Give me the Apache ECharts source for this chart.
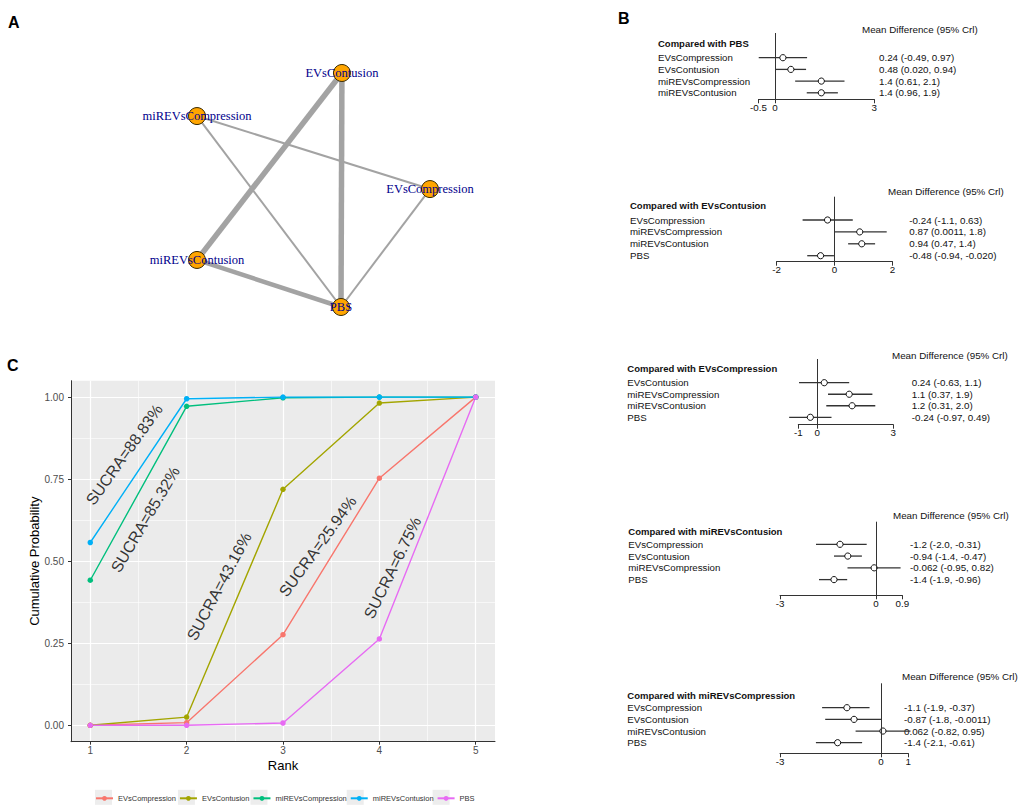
<!DOCTYPE html>
<html><head><meta charset="utf-8">
<script src="https://cdn.jsdelivr.net/npm/echarts@6/dist/echarts.min.js"></script>
<style>html,body{margin:0;padding:0;background:#fff}#c{width:1021px;height:809px}</style>
</head><body><div id="c"></div>
<script>
// ---------- Panel A : network ----------
const nodeNames = ['EVsContusion','miREVsCompression','EVsCompression','miREVsContusion','PBS'];
const nodeX = [0.622, 0, 1, 0, 0.618];
const nodeY = [1, 0.816, 0.504, 0.201, 0];
const edgeFrom = ['EVsContusion','EVsContusion','miREVsContusion','miREVsCompression','miREVsCompression','EVsCompression'];
const edgeTo   = ['PBS','miREVsContusion','PBS','EVsCompression','PBS','PBS'];
const edgeWeight = [5.5, 5.5, 4.5, 2, 2, 2];

// ---------- Panel B : forest plots ----------
const forestRefs = ['PBS','EVsContusion','EVsCompression','miREVsContusion','miREVsCompression'];
const forestRows = [
  ['EVsCompression','EVsContusion','miREVsCompression','miREVsContusion'],
  ['EVsCompression','miREVsCompression','miREVsContusion','PBS'],
  ['EVsContusion','miREVsCompression','miREVsContusion','PBS'],
  ['EVsCompression','EVsContusion','miREVsCompression','PBS'],
  ['EVsCompression','EVsContusion','miREVsContusion','PBS']
];
const forestMean = [
  [0.24, 0.48, 1.4, 1.4],
  [-0.24, 0.87, 0.94, -0.48],
  [0.24, 1.1, 1.2, -0.24],
  [-1.2, -0.94, -0.062, -1.4],
  [-1.1, -0.87, 0.062, -1.4]
];
const forestLow = [
  [-0.49, 0.020, 0.61, 0.96],
  [-1.1, 0.0011, 0.47, -0.94],
  [-0.63, 0.37, 0.31, -0.97],
  [-2.0, -1.4, -0.95, -1.9],
  [-1.9, -1.8, -0.82, -2.1]
];
const forestHigh = [
  [0.97, 0.94, 2.1, 1.9],
  [0.63, 1.8, 1.4, -0.020],
  [1.1, 1.9, 2.0, 0.49],
  [-0.31, -0.47, 0.82, -0.96],
  [-0.37, -0.0011, 0.95, -0.61]
];
const forestTickValues = [[-0.5,0,3],[-2,0,2],[-0.655,0,2.621],[-3.2,0,0.877],[-3.258,0,0.880]];
const forestTickLabels = [['-0.5','0','3'],['-2','0','2'],['-1','0','3'],['-3','0','0.9'],['-3','0','1']];

// ---------- Panel C : cumulative ranking ----------
const ranks = [1,2,3,4,5];
const treatments = ['EVsCompression','EVsContusion','miREVsCompression','miREVsContusion','PBS'];
const cumEVsCompression    = [0, 0.008, 0.276, 0.753, 1];
const cumEVsContusion      = [0, 0.025, 0.719, 0.982, 1];
const cumMiREVsCompression = [0.442, 0.972, 0.998, 1, 1];
const cumMiREVsContusion   = [0.557, 0.995, 1, 1, 1];
const cumPBS               = [0, 0, 0.007, 0.263, 1];
const sucra = [25.94, 43.16, 85.32, 88.83, 6.75];
const sucraX = [3.36, 2.338, 1.571, 1.353, 4.138];
const sucraY = [0.545, 0.423, 0.627, 0.825, 0.48];
const sucraAngle = [54, 62, 59.5, 54.4, 64];
const yTicks = [0, 0.25, 0.5, 0.75, 1];
const yMinor = [0.125, 0.375, 0.625, 0.875];
const xMinor = [1.5, 2.5, 3.5, 4.5];

// ---------- layout (pixels) ----------
const FL = [
 {left:758.4, right:874.3, top:33,    axisY:99.3,  row0:57.7,  rowGap:11.7,  labelX:658,   valueX:879,   headY:43,    mdX:862, mdY:29},
 {left:776.5, right:892.5, top:196.7, axisY:261.7, row0:220,   rowGap:11.9,  labelX:630,   valueX:909.3, headY:205,   mdX:888, mdY:191.7},
 {left:798.3, right:893.3, top:359,   axisY:424.7, row0:382.7, rowGap:11.53, labelX:627.3, valueX:911.7, headY:368.3, mdX:892, mdY:355},
 {left:780,   right:902.3, top:521.7, axisY:595.3, row0:544.3, rowGap:11.77, labelX:628.3, valueX:910,   headY:531.7, mdX:893, mdY:515},
 {left:780,   right:908.3, top:683.3, axisY:753.3, row0:707.7, rowGap:11.67, labelX:627.3, valueX:904,   headY:695,   mdX:902, mdY:676}
];
const colors = ['#F8766D','#A3A500','#00BF7D','#00B0F6','#E76BF3'];
const SANS = 'Liberation Sans';
const LEG = {left:95, cy:797.3, keyW:17, keyH:15, gap:3, font:7.5};

const fmt = v => Number(v).toPrecision(2);

const option = {
  animation: false,
  textStyle: {fontFamily: SANS},
  grid: [], xAxis: [], yAxis: [], series: [], graphic: [], legend: []
};

// Panel A
option.grid.push({left:197, top:73, width:233, height:234, outerBoundsMode:'none'});
option.xAxis.push({type:'value', gridIndex:0, min:0, max:1, show:false});
option.yAxis.push({type:'value', gridIndex:0, min:0, max:1, show:false});
option.series.push({
  type:'graph', coordinateSystem:'cartesian2d', xAxisIndex:0, yAxisIndex:0,
  symbol:'circle', symbolSize:17, silent:true,
  itemStyle:{color:'#FFA500', borderColor:'#3a2a00', borderWidth:1},
  label:{show:true, position:'inside', fontFamily:'Liberation Serif', fontSize:12.5, color:'#00008B'},
  lineStyle:{color:'#A3A3A3', opacity:1, curveness:0},
  emphasis:{disabled:true},
  data: nodeNames.map((n,i)=>({name:n, value:[nodeX[i], nodeY[i]]})),
  links: edgeFrom.map((s,i)=>({source:s, target:edgeTo[i], lineStyle:{width:edgeWeight[i]}}))
});

// Panel B
const rightAxes = [];
for (let k = 0; k < 5; k++) {
  const L = FL[k];
  const tv = forestTickValues[k], tl = forestTickLabels[k];
  const rows = forestRows[k];
  const yMin = -(L.row0 - L.top) / L.rowGap;
  const yMax = (L.axisY - L.row0) / L.rowGap;
  const gi = option.grid.length;
  option.grid.push({left:L.left, top:L.top, width:L.right-L.left, height:L.axisY-L.top, outerBoundsMode:'none'});
  const xi = option.xAxis.length;
  option.xAxis.push({
    type:'value', gridIndex:gi, min:tv[0], max:tv[tv.length-1], position:'bottom',
    axisLine:{show:true, onZero:false, lineStyle:{color:'#333', width:1}},
    axisTick:{show:true, customValues:tv, length:4, lineStyle:{color:'#333', width:1}},
    axisLabel:{show:true, customValues:tv, margin:3, fontSize:9.8, color:'#111', fontFamily:SANS,
      formatter:(v)=>{ for (let j=0;j<tv.length;j++){ if (Math.abs(v-tv[j])<1e-6) return tl[j]; } return ''; }},
    splitLine:{show:false}
  });
  const rowIdx = rows.map((r,i)=>i);
  const yi = option.yAxis.length;
  option.yAxis.push({
    type:'value', gridIndex:gi, min:yMin, max:yMax, inverse:true, position:'left',
    axisLine:{show:false, onZero:false}, axisTick:{show:false}, splitLine:{show:false},
    axisLabel:{show:true, customValues:rowIdx, align:'left', margin:L.left-L.labelX, fontSize:9.7, color:'#111', fontFamily:SANS,
      formatter:(v)=>rows[Math.round(v)] || ''}
  });
  rightAxes.push({
    type:'value', gridIndex:gi, min:yMin, max:yMax, inverse:true, position:'right',
    axisLine:{show:false, onZero:false}, axisTick:{show:false}, splitLine:{show:false},
    axisLabel:{show:true, customValues:rowIdx, align:'left', margin:L.valueX-L.right, fontSize:9.8, color:'#111', fontFamily:SANS,
      formatter:(v)=>{ const i=Math.round(v); return fmt(forestMean[k][i])+' ('+fmt(forestLow[k][i])+', '+fmt(forestHigh[k][i])+')'; }}
  });
  option.series.push({
    type:'custom', xAxisIndex:xi, yAxisIndex:yi, silent:true, clip:false,
    encode:{x:[0,1,2], y:3},
    data: rows.map((r,i)=>[forestMean[k][i], forestLow[k][i], forestHigh[k][i], i]),
    renderItem:(params, api)=>{
      const lo = api.coord([api.value(1), api.value(3)]);
      const hi = api.coord([api.value(2), api.value(3)]);
      const m  = api.coord([api.value(0), api.value(3)]);
      return {type:'group', children:[
        {type:'line', shape:{x1:lo[0], y1:lo[1], x2:hi[0], y2:hi[1]}, style:{stroke:'#333', lineWidth:1.3}},
        {type:'circle', shape:{cx:m[0], cy:m[1], r:3.1}, style:{fill:'#fff', stroke:'#111', lineWidth:1}}
      ]};
    },
    markLine:{silent:true, symbol:['none','none'], label:{show:false},
      lineStyle:{color:'#333', width:1, type:'solid'}, data:[{xAxis:0}]}
  });
  option.graphic.push({type:'text', x:L.labelX, y:L.headY, silent:true,
    style:{text:'Compared with '+forestRefs[k], fill:'#111', font:'bold 9.5px "Liberation Sans"', align:'left', textAlign:'left', verticalAlign:'middle', textVerticalAlign:'middle'}});
  option.graphic.push({type:'text', x:L.mdX, y:L.mdY, silent:true,
    style:{text:'Mean Difference (95% Crl)', fill:'#111', font:'9.8px "Liberation Sans"', align:'left', textAlign:'left', verticalAlign:'middle', textVerticalAlign:'middle'}});
}
rightAxes.forEach(a=>option.yAxis.push(a));

// Panel C
const gC = option.grid.length;
option.grid.push({left:71, top:380.7, width:424, height:361, show:true, backgroundColor:'#EBEBEB', borderWidth:0, outerBoundsMode:'none'});
const xC = option.xAxis.length;
option.xAxis.push({
  type:'value', gridIndex:gC, min:0.8, max:5.2, position:'bottom',
  name:'Rank', nameLocation:'middle', nameGap:17, nameTextStyle:{fontSize:13, color:'#000', fontFamily:SANS},
  axisLine:{show:true, onZero:false, lineStyle:{color:'#333', width:1}},
  axisTick:{show:true, customValues:ranks, length:3, lineStyle:{color:'#333'}},
  axisLabel:{show:true, customValues:ranks, margin:4, fontSize:10, color:'#4D4D4D', fontFamily:SANS},
  splitLine:{show:true, lineStyle:{color:'#FFFFFF', width:1.2}}
});
option.xAxis.push({
  type:'value', gridIndex:gC, min:0.8, max:5.2, position:'top',
  axisLine:{show:false, onZero:false}, axisTick:{show:false, customValues:xMinor}, axisLabel:{show:false},
  splitLine:{show:true, lineStyle:{color:'#FFFFFF', width:0.6}}
});
const yC = option.yAxis.length;
option.yAxis.push({
  type:'value', gridIndex:gC, min:-0.05, max:1.05, position:'left',
  name:'Cumulative Probability', nameLocation:'middle', nameGap:28, nameTextStyle:{fontSize:13, color:'#000', fontFamily:SANS},
  axisLine:{show:true, onZero:false, lineStyle:{color:'#333', width:1}},
  axisTick:{show:true, customValues:yTicks, length:3, lineStyle:{color:'#333'}},
  axisLabel:{show:true, customValues:yTicks, margin:7, fontSize:10, color:'#4D4D4D', fontFamily:SANS, formatter:(v)=>Number(v).toFixed(2)},
  splitLine:{show:true, lineStyle:{color:'#FFFFFF', width:1.2}}
});
option.yAxis.push({
  type:'value', gridIndex:gC, min:-0.05, max:1.05, position:'right',
  axisLine:{show:false, onZero:false}, axisTick:{show:false, customValues:yMinor}, axisLabel:{show:false},
  splitLine:{show:true, lineStyle:{color:'#FFFFFF', width:0.6}}
});
const cumData = [cumEVsCompression, cumEVsContusion, cumMiREVsCompression, cumMiREVsContusion, cumPBS];
treatments.forEach((t,i)=>{
  option.series.push({
    type:'line', name:t, xAxisIndex:xC, yAxisIndex:yC, silent:true,
    data: ranks.map((r,j)=>[r, cumData[i][j]]),
    symbol:'circle', symbolSize:5.5, showSymbol:true,
    lineStyle:{color:colors[i], width:1.4}, itemStyle:{color:colors[i]},
    emphasis:{disabled:true}
  });
});
option.series.push({
  type:'scatter', xAxisIndex:xC, yAxisIndex:yC, silent:true, symbolSize:0, z:5,
  data: treatments.map((t,i)=>({value:[sucraX[i], sucraY[i]], label:{rotate:sucraAngle[i]}})),
  label:{show:true, position:'inside', fontSize:16, color:'#000', fontFamily:SANS,
    formatter:(p)=>'SUCRA=' + sucra[p.dataIndex].toFixed(2) + '%'}
});

// legend (keys drawn by ECharts; light key backgrounds placed behind them)
option.legend.push({
  data:treatments, left:LEG.left, top:LEG.cy-3, padding:0, orient:'horizontal',
  itemWidth:LEG.keyW, itemHeight:6, itemGap:LEG.gap, selectedMode:false, z:4,
  textStyle:{fontSize:LEG.font, color:'#333', fontFamily:SANS}
});
(function(){
  const ctx = document.createElement('canvas').getContext('2d');
  ctx.font = LEG.font + 'px "Liberation Sans"';
  let x = LEG.left;
  treatments.forEach(t=>{
    option.graphic.push({type:'rect', z:1, silent:true,
      shape:{x:x, y:LEG.cy-LEG.keyH/2, width:LEG.keyW, height:LEG.keyH}, style:{fill:'#EDEDED'}});
    x += LEG.keyW + 5 + ctx.measureText(t).width + LEG.gap;
  });
})();

// panel letters
[['A',8,22],['B',618,18],['C',7,365]].forEach(p=>{
  option.graphic.push({type:'text', x:p[1], y:p[2], silent:true,
    style:{text:p[0], fill:'#000', font:'bold 16px "Liberation Sans"', align:'left', textAlign:'left', verticalAlign:'middle', textVerticalAlign:'middle'}});
});

const chart = echarts.init(document.getElementById('c'), null, {renderer:'svg', width:1021, height:809});
chart.setOption(option);
</script></body></html>
